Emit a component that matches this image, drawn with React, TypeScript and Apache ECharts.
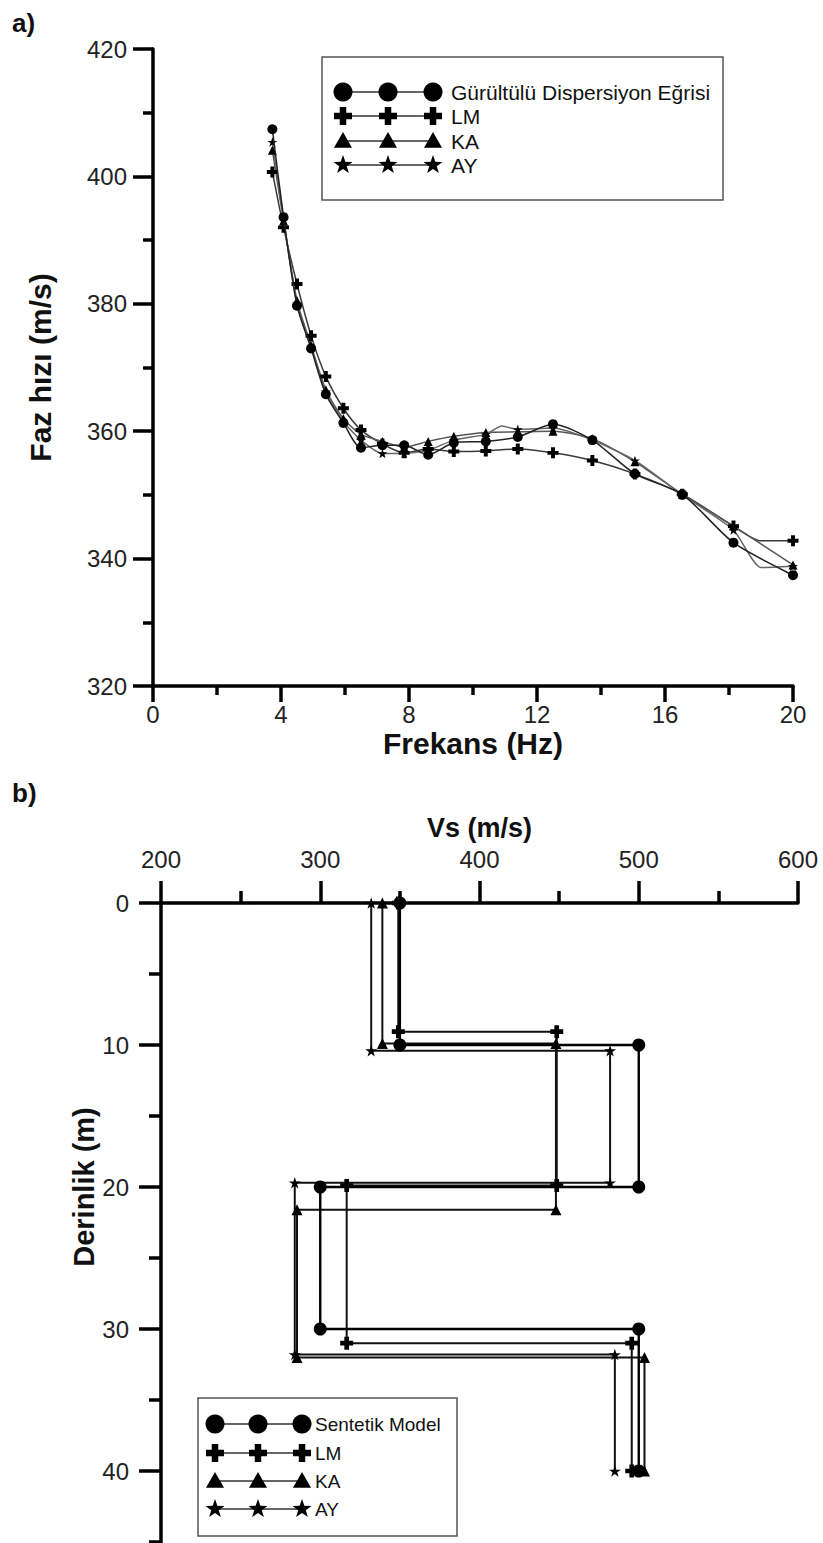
import React, { useEffect, useRef } from "react";
import * as echarts from "echarts";

// ---------- a) dispersion curves ----------
const freqHz = [3.73, 4.08, 4.5, 4.94, 5.4, 5.95, 6.5, 7.17, 7.85, 8.6, 9.4, 10.4, 11.4, 12.5, 13.73, 15.06, 16.54, 18.14, 20];
const noisyVel = [407.4, 393.6, 379.7, 373.0, 365.8, 361.3, 357.4, 357.8, 357.8, 356.3, 358.2, 358.4, 359.1, 361.1, 358.6, 353.3, 350.1, 342.5, 337.4];
const lmVel = [400.7, 392.0, 383.1, 375.0, 368.6, 363.6, 360.2, 358.0, 356.6, 357.2, 356.8, 356.9, 357.2, 356.6, 355.4, 353.3, 350.1, 345.1, 342.8];
const kaVel = [404.1, 393.0, 380.5, 373.5, 366.5, 362.0, 359.5, 358.4, 357.5, 358.4, 359.2, 359.8, 359.9, 360.0, 358.8, 355.2, 350.1, 345.1, 339.0];
const ayVel = [405.4, 393.3, 380.0, 373.2, 366.2, 361.5, 358.6, 356.5, 356.5, 357.0, 358.6, 359.5, 360.3, 360.5, 358.6, 355.4, 350.0, 344.5, 338.8];
// unmarked bend points of the curves [freq, velocity]
const lmBends = [[19.0, 342.8]];
const ayBends = [[10.9, 360.8], [19.0, 338.6]];

const freqTicks = { min: 0, max: 20, step: 4 };
const velTicks = { min: 320, max: 420, step: 20 };

// ---------- b) Vs profiles ----------
const synthVs = [350, 350, 500, 500, 300, 300, 500, 500];
const synthDepth = [0, 10, 10, 20, 20, 30, 30, 40];
const lmVs = [349, 349, 448.5, 448.5, 316.6, 316.6, 495.6, 495.6];
const lmDepth = [0, 9.06, 9.06, 19.9, 19.9, 31.0, 31.0, 40];
const kaVs = [339, 339, 448, 448, 285.4, 285.4, 503.6, 503.6];
const kaDepth = [0, 9.9, 9.9, 21.6, 21.6, 32.0, 32.0, 40];
const ayVs = [332, 332, 482, 482, 284, 284, 485, 485];
const ayDepth = [0, 10.4, 10.4, 19.7, 19.7, 31.8, 31.8, 40];

const vsTicks = { min: 200, max: 600, step: 100 };
const depthTicks = { min: 0, max: 50, step: 10 };

const legendA = ["Gürültülü Dispersiyon Eğrisi", "LM", "KA", "AY"];
const legendB = ["Sentetik Model", "LM", "KA", "AY"];
const markerKinds = ["circle", "plus", "triangle", "star"];

const FONT = "'Liberation Sans', Arial, Helvetica, sans-serif";

const PLUS_PATH = "path://M3.2,0H6.8V3.2H10V6.8H6.8V10H3.2V6.8H0V3.2H3.2Z";
const STAR_PATH =
  "path://M10,0L12.245,6.91L19.511,6.91L13.633,11.18L15.878,18.09L10,13.82L4.122,18.09L6.367,11.18L0.489,6.91L7.755,6.91Z";

function symbolOf(kind: string) {
  if (kind === "plus") return PLUS_PATH;
  if (kind === "star") return STAR_PATH;
  return kind;
}

function withBends(xs: number[], ys: number[], bends: number[][]) {
  const pts: any[] = xs.map((x, i) => ({ value: [x, ys[i]] }));
  bends.forEach(([x, y]) => pts.push({ value: [x, y], symbol: "none" }));
  pts.sort((a, b) => a.value[0] - b.value[0]);
  return pts;
}

function pairs(xs: number[], ys: number[]) {
  return xs.map((x, i) => [x, ys[i]]);
}

// ---- legend marker graphics ----
function starPoints(cx: number, cy: number, r: number) {
  const pts: number[][] = [];
  for (let k = 0; k < 10; k++) {
    const ang = -Math.PI / 2 + (k * Math.PI) / 5;
    const rr = k % 2 === 0 ? r : r * 0.4;
    pts.push([cx + rr * Math.cos(ang), cy + rr * Math.sin(ang)]);
  }
  return pts;
}
function plusPoints(cx: number, cy: number, r: number) {
  const t = r * 0.36;
  return [
    [cx - t, cy - r], [cx + t, cy - r], [cx + t, cy - t], [cx + r, cy - t],
    [cx + r, cy + t], [cx + t, cy + t], [cx + t, cy + r], [cx - t, cy + r],
    [cx - t, cy + t], [cx - r, cy + t], [cx - r, cy - t], [cx - t, cy - t],
  ];
}
function triPoints(cx: number, cy: number, r: number) {
  return [[cx, cy - r], [cx + r, cy + r * 0.75], [cx - r, cy + r * 0.75]];
}
function marker(kind: string, cx: number, cy: number, r: number) {
  const style = { fill: "#000" };
  if (kind === "circle") return { type: "circle", shape: { cx, cy, r }, style };
  if (kind === "plus") return { type: "polygon", shape: { points: plusPoints(cx, cy, r * 0.95) }, style };
  if (kind === "triangle") return { type: "polygon", shape: { points: triPoints(cx, cy, r * 0.95) }, style };
  return { type: "polygon", shape: { points: starPoints(cx, cy, r * 1.05) }, style };
}

function legendBox(
  labels: string[],
  box: { x: number; y: number; w: number; h: number },
  rowYs: number[],
  mxs: number[],
  textX: number,
  fontSize: number,
  r: number
) {
  const els: any[] = [
    {
      type: "rect",
      shape: { x: box.x, y: box.y, width: box.w, height: box.h },
      style: { fill: "#fff", stroke: "#555", lineWidth: 1.5 },
      z: 10,
    },
  ];
  labels.forEach((label, i) => {
    const y = rowYs[i];
    els.push({
      type: "line",
      shape: { x1: mxs[0], y1: y, x2: mxs[mxs.length - 1], y2: y },
      style: { stroke: "#333", lineWidth: 1.5 },
      z: 11,
    });
    mxs.forEach((mx) => {
      const m: any = marker(markerKinds[i], mx, y, r);
      m.z = 12;
      els.push(m);
    });
    els.push({
      type: "text",
      x: textX,
      y,
      style: { text: label, fontSize, fontFamily: FONT, fill: "#111", verticalAlign: "middle", align: "left" },
      z: 12,
    });
  });
  return els;
}

const AXW = 3.5;
const axisLine = { show: true, onZero: false, lineStyle: { color: "#000", width: AXW } };

export default function App() {
  const ref = useRef<HTMLDivElement>(null);

  useEffect(() => {
    if (!ref.current) return;
    const chart = echarts.init(ref.current, undefined, { renderer: "svg" });

    const labelStyle = { fontSize: 24, color: "#222", fontFamily: FONT };
    const nameStyle = { fontSize: 27, fontWeight: "bold" as const, color: "#111", fontFamily: FONT };
    const bigName = { ...nameStyle, fontSize: 30 };

    const topLine = (color: string) => ({ color, width: 1.5 });

    const option: any = {
      animation: false,
      backgroundColor: "#fff",
      grid: [
        { left: 153, top: 49, width: 640, height: 637, containLabel: false },
        { left: 161, top: 903, width: 637, height: 710, containLabel: false },
      ],
      xAxis: [
        {
          type: "value",
          gridIndex: 0,
          min: freqTicks.min,
          max: freqTicks.max,
          interval: freqTicks.step,
          axisLine,
          axisTick: { show: true, length: 16, lineStyle: { color: "#000", width: AXW } },
          minorTick: { show: true, splitNumber: 2, length: 9, lineStyle: { color: "#000", width: AXW } },
          splitLine: { show: false },
          minorSplitLine: { show: false },
          axisLabel: { ...labelStyle, margin: 16 },
          name: "Frekans (Hz)",
          nameLocation: "middle",
          nameGap: 42,
          nameTextStyle: bigName,
        },
        {
          type: "value",
          gridIndex: 1,
          position: "top",
          min: vsTicks.min,
          max: vsTicks.max,
          interval: vsTicks.step,
          axisLine,
          axisTick: { show: true, length: 22, lineStyle: { color: "#000", width: AXW } },
          minorTick: { show: true, splitNumber: 2, length: 12, lineStyle: { color: "#000", width: AXW } },
          splitLine: { show: false },
          minorSplitLine: { show: false },
          axisLabel: { ...labelStyle, margin: 32 },
          name: "Vs (m/s)",
          nameLocation: "middle",
          nameGap: 62,
          nameTextStyle: nameStyle,
        },
      ],
      yAxis: [
        {
          type: "value",
          gridIndex: 0,
          min: velTicks.min,
          max: velTicks.max,
          interval: velTicks.step,
          axisLine,
          axisTick: { show: true, length: 20, lineStyle: { color: "#000", width: AXW } },
          minorTick: { show: true, splitNumber: 2, length: 10, lineStyle: { color: "#000", width: AXW } },
          splitLine: { show: false },
          minorSplitLine: { show: false },
          axisLabel: { ...labelStyle, margin: 26 },
          name: "Faz hızı (m/s)",
          nameLocation: "middle",
          nameGap: 98,
          nameTextStyle: bigName,
        },
        {
          type: "value",
          gridIndex: 1,
          inverse: true,
          min: depthTicks.min,
          max: depthTicks.max,
          interval: depthTicks.step,
          axisLine,
          axisTick: { show: true, length: 22, lineStyle: { color: "#000", width: AXW } },
          minorTick: { show: true, splitNumber: 2, length: 12, lineStyle: { color: "#000", width: AXW } },
          splitLine: { show: false },
          minorSplitLine: { show: false },
          axisLabel: { ...labelStyle, margin: 32, showMaxLabel: false },
        },
      ],
      series: [
        {
          type: "line",
          name: legendA[1],
          xAxisIndex: 0,
          yAxisIndex: 0,
          data: withBends(freqHz, lmVel, lmBends),
          symbol: symbolOf("plus"),
          symbolSize: 11,
          symbolKeepAspect: true,
          smooth: 0.25,
          lineStyle: topLine("#3a3a3a"),
          itemStyle: { color: "#000" },
          clip: false,
          z: 3,
        },
        {
          type: "line",
          name: legendA[2],
          xAxisIndex: 0,
          yAxisIndex: 0,
          data: withBends(freqHz, kaVel, []),
          symbol: symbolOf("triangle"),
          symbolSize: 9,
          smooth: 0.25,
          lineStyle: topLine("#555"),
          itemStyle: { color: "#000" },
          clip: false,
          z: 3,
        },
        {
          type: "line",
          name: legendA[3],
          xAxisIndex: 0,
          yAxisIndex: 0,
          data: withBends(freqHz, ayVel, ayBends),
          symbol: symbolOf("star"),
          symbolSize: 10,
          symbolKeepAspect: true,
          smooth: 0.2,
          lineStyle: topLine("#666"),
          itemStyle: { color: "#000" },
          clip: false,
          z: 3,
        },
        {
          type: "line",
          name: legendA[0],
          xAxisIndex: 0,
          yAxisIndex: 0,
          data: withBends(freqHz, noisyVel, []),
          symbol: symbolOf("circle"),
          symbolSize: 10,
          smooth: 0.25,
          lineStyle: topLine("#222"),
          itemStyle: { color: "#000" },
          clip: false,
          z: 4,
        },
        {
          type: "line",
          name: legendB[3],
          xAxisIndex: 1,
          yAxisIndex: 1,
          data: pairs(ayVs, ayDepth),
          symbol: symbolOf("star"),
          symbolSize: 12,
          symbolKeepAspect: true,
          lineStyle: { color: "#111", width: 2 },
          itemStyle: { color: "#000" },
          clip: false,
        },
        {
          type: "line",
          name: legendB[2],
          xAxisIndex: 1,
          yAxisIndex: 1,
          data: pairs(kaVs, kaDepth),
          symbol: symbolOf("triangle"),
          symbolSize: 11,
          lineStyle: { color: "#111", width: 2 },
          itemStyle: { color: "#000" },
          clip: false,
        },
        {
          type: "line",
          name: legendB[1],
          xAxisIndex: 1,
          yAxisIndex: 1,
          data: pairs(lmVs, lmDepth),
          symbol: symbolOf("plus"),
          symbolSize: 13,
          symbolKeepAspect: true,
          lineStyle: { color: "#111", width: 2 },
          itemStyle: { color: "#000" },
          clip: false,
        },
        {
          type: "line",
          name: legendB[0],
          xAxisIndex: 1,
          yAxisIndex: 1,
          data: pairs(synthVs, synthDepth),
          symbol: symbolOf("circle"),
          symbolSize: 13,
          lineStyle: { color: "#000", width: 2.4 },
          itemStyle: { color: "#000" },
          clip: false,
        },
      ],
      graphic: [
        { type: "text", x: 12, y: 10, style: { text: "a)", fontSize: 26, fontWeight: "bold", fontFamily: FONT, fill: "#111" } },
        { type: "text", x: 12, y: 780, style: { text: "b)", fontSize: 26, fontWeight: "bold", fontFamily: FONT, fill: "#111" } },
        {
          type: "text",
          x: 84,
          y: 1187,
          rotation: Math.PI / 2,
          style: {
            text: "Derinlik (m)",
            fontSize: 29,
            fontWeight: "bold",
            fontFamily: FONT,
            fill: "#111",
            align: "center",
            verticalAlign: "middle",
          },
        },
        ...legendBox(legendA, { x: 322, y: 57, w: 401, h: 143 }, [92, 116, 141, 165], [343, 388, 433], 451, 21, 9.5),
        ...legendBox(legendB, { x: 198, y: 1398, w: 259, h: 138 }, [1424, 1453, 1481, 1509], [215, 258, 302], 315, 19, 9.5),
      ],
    };

    chart.setOption(option);
    return () => chart.dispose();
  }, []);

  return (
    <div style={{ position: "absolute", left: 0, top: 0, width: 823, height: 1543, overflow: "hidden", background: "#fff" }}>
      <div ref={ref} style={{ width: 823, height: 1620 }} />
    </div>
  );
}
